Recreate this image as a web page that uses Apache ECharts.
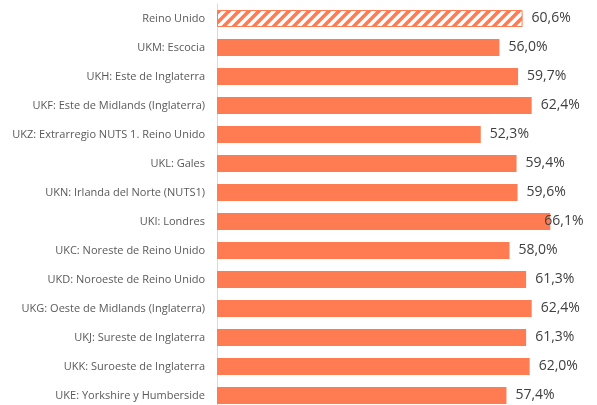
<!DOCTYPE html>
<html>
<head>
<meta charset="utf-8">
<script src="https://cdn.jsdelivr.net/npm/echarts@6/dist/echarts.min.js"></script>
<style>
  html, body { margin: 0; padding: 0; background: #fff; overflow: hidden; }
  #main { width: 597px; height: 412px; }
</style>
</head>
<body>
<div id="main"></div>
<script>
// datos
const regiones = [
  'Reino Unido',
  'UKM: Escocia',
  'UKH: Este de Inglaterra',
  'UKF: Este de Midlands (Inglaterra)',
  'UKZ: Extrarregio NUTS 1. Reino Unido',
  'UKL: Gales',
  'UKN: Irlanda del Norte (NUTS1)',
  'UKI: Londres',
  'UKC: Noreste de Reino Unido',
  'UKD: Noroeste de Reino Unido',
  'UKG: Oeste de Midlands (Inglaterra)',
  'UKJ: Sureste de Inglaterra',
  'UKK: Suroeste de Inglaterra',
  'UKE: Yorkshire y Humberside'
];
const valores = [60.6, 56.0, 59.7, 62.4, 52.3, 59.4, 59.6, 66.1, 58.0, 61.3, 62.4, 61.3, 62.0, 57.4];

const naranja = '#ff7c52';

// trama rayada para el total
function rayas() {
  const c = document.createElement('canvas');
  c.width = 10; c.height = 10;
  const ctx = c.getContext('2d');
  ctx.fillStyle = '#fff';
  ctx.fillRect(0, 0, 10, 10);
  ctx.strokeStyle = naranja;
  ctx.lineWidth = 3.6;
  [[-5, 5, 5, -5], [0, 10, 10, 0], [5, 15, 15, 5]].forEach(function (l) {
    ctx.beginPath();
    ctx.moveTo(l[0], l[1]);
    ctx.lineTo(l[2], l[3]);
    ctx.stroke();
  });
  return c;
}

const datos = valores.map(function (v, i) {
  const d = { value: v };
  if (i === 0) {
    d.itemStyle = { color: { image: rayas(), repeat: 'repeat' }, borderColor: naranja, borderWidth: 1 };
  }
  if (regiones[i] === 'UKI: Londres') {
    d.label = { offset: [-15, 0] };
  }
  return d;
});

let myChart = echarts.init(document.getElementById('main'));
let option = {
  animation: false,
  grid: { left: 217, width: 353, top: 4, height: 406, containLabel: false },
  xAxis: {
    type: 'value',
    min: 0,
    max: 70,
    show: false
  },
  yAxis: {
    type: 'category',
    data: regiones,
    inverse: true,
    axisLine: { show: true, lineStyle: { color: '#d9d9d9', width: 1 } },
    axisTick: { show: false },
    axisLabel: {
      color: '#595959',
      fontSize: 11,
      fontFamily: 'Open Sans',
      margin: 12
    }
  },
  series: [
    {
      type: 'bar',
      data: datos,
      barWidth: 17,
      itemStyle: { color: naranja },
      label: {
        show: true,
        position: 'right',
        distance: 9,
        color: '#404040',
        fontSize: 14,
        fontFamily: 'Open Sans',
        formatter: function (p) { return p.value.toFixed(1).replace('.', ',') + '%'; }
      }
    }
  ]
};
myChart.setOption(option);
</script>
</body>
</html>
